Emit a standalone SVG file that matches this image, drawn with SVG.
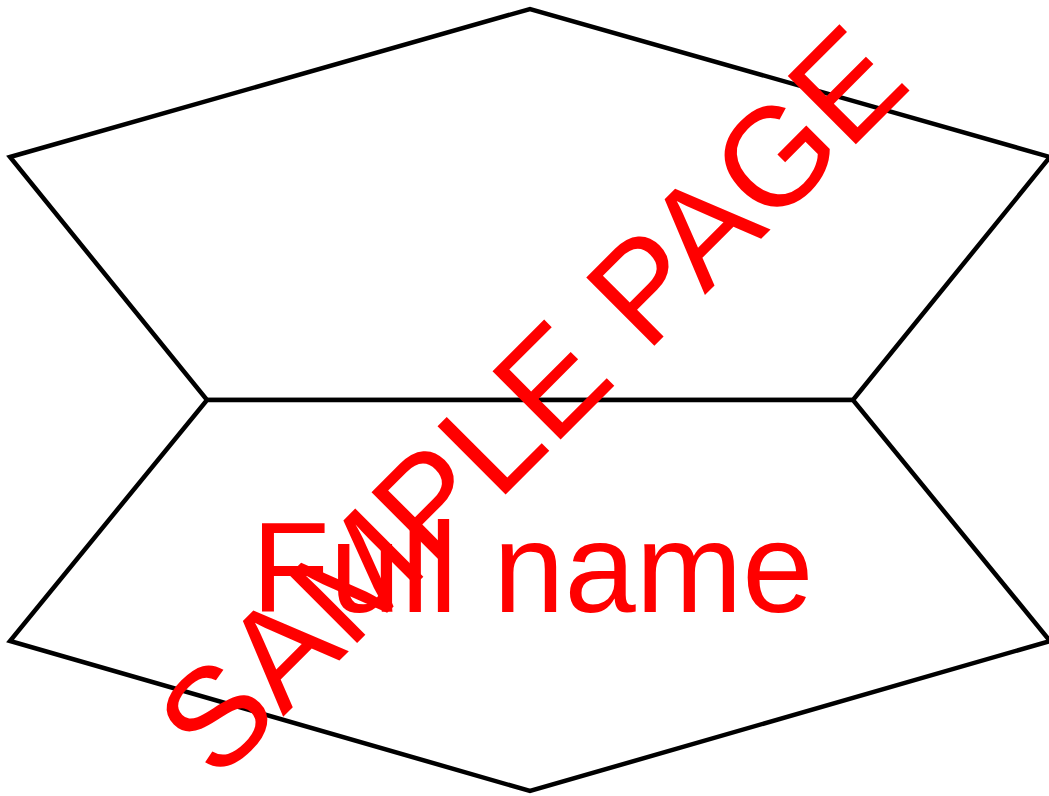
<svg xmlns="http://www.w3.org/2000/svg" width="1049" height="796" viewBox="0 0 1049 796">
<style>
.shape{fill:#ffffff;stroke:#000000;stroke-width:4.5;stroke-linejoin:miter}
.red{fill:#ff0000;font-family:"Liberation Sans",Arial,sans-serif}
</style>
<rect x="0" y="0" width="1049" height="796" fill="#ffffff"/>
<g id="top-shape">
<polygon class="shape" points="10,157 530,9 1050,157 853,400 207,400"/>
</g>
<g id="bottom-shape">
<polygon class="shape" points="207,400 853,400 1050,641 530,791 10,641"/>
</g>
<g id="connectors"></g>
<g id="label">
<text class="red" x="532.5" y="612" font-size="128" text-anchor="middle">Full name</text>
</g>
<g id="watermark">
<text class="red" x="217" y="783" font-size="140" transform="rotate(-45 217 783)">SAMPLE PAGE</text>
</g>
</svg>
